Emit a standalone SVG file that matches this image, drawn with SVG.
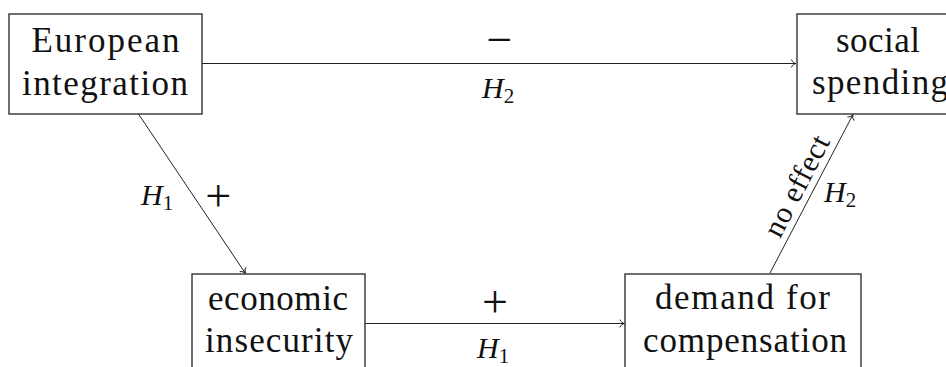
<svg xmlns="http://www.w3.org/2000/svg" width="946" height="367" viewBox="0 0 946 367">
<style>
text{font-family:'Liberation Serif','Tinos','Noto Serif','DejaVu Serif','FreeSerif','Nimbus Roman','Times New Roman','Times',serif}
.box{fill:#fff;stroke:#333;stroke-width:1.4}
.t{font-size:35px;fill:#111;text-anchor:middle}
.m{font-size:30px;font-style:italic;fill:#111}
.sub{font-style:normal;font-size:21px}
.op{font-size:46px;fill:#111;text-anchor:middle}
.lbl{font-size:30px;fill:#111;text-anchor:middle}
.edge{fill:none;stroke:#222;stroke-width:1;marker-end:url(#to)}
</style>
<defs>
<marker id="to" viewBox="-6 -5 8 10" refX="0" refY="0" markerWidth="8" markerHeight="10" markerUnits="userSpaceOnUse" orient="auto">
<path d="M-4.5,-3.5 C-3.8,-1.5 -1.5,-0.3 0,0 C-1.5,0.3 -3.8,1.5 -4.5,3.5" fill="none" stroke="#222" stroke-width="1" stroke-linecap="round"/>
</marker>
</defs>
<g id="edges">
<line class="edge" x1="202" y1="63.5" x2="796" y2="63.5"/>
<line class="edge" x1="365" y1="323.5" x2="624.5" y2="323.5"/>
<line class="edge" x1="138.5" y1="114" x2="245.5" y2="273.5"/>
<line class="edge" x1="770" y1="273" x2="853" y2="114.5"/>
<text class="op" x="499.5" y="55">−</text>
<text class="m" x="482" y="98">H<tspan class="sub" dy="5">2</tspan></text>
<text class="op" x="495" y="316.5">+</text>
<text class="m" x="477" y="358">H<tspan class="sub" dy="5">1</tspan></text>
<text class="m" x="141" y="205">H<tspan class="sub" dy="5">1</tspan></text>
<text class="op" x="218.3" y="211">+</text>
<text class="m" x="824" y="202">H<tspan class="sub" dy="5">2</tspan></text>
<text class="lbl" x="805.3" y="190.3" transform="rotate(-62.6 805.3 190.3)" textLength="110" lengthAdjust="spacing">no effect</text>
</g>
<g id="n-european">
<rect class="box" x="9" y="14" width="193" height="100"/>
<text class="t" x="105.5" y="52" textLength="148" lengthAdjust="spacing">European</text>
<text class="t" x="105" y="95" textLength="166" lengthAdjust="spacing">integration</text>
</g>
<g id="n-social">
<rect class="box" x="797" y="14" width="166" height="100"/>
<text class="t" x="878" y="52" textLength="84" lengthAdjust="spacing">social</text>
<text class="t" x="880" y="94" textLength="136" lengthAdjust="spacing">spending</text>
</g>
<g id="n-insecurity">
<rect class="box" x="192" y="274" width="173" height="100"/>
<text class="t" x="278" y="310" textLength="140" lengthAdjust="spacing">economic</text>
<text class="t" x="279" y="352" textLength="148" lengthAdjust="spacing">insecurity</text>
</g>
<g id="n-demand">
<rect class="box" x="625" y="274" width="236" height="100"/>
<text class="t" x="742.5" y="309" textLength="175" lengthAdjust="spacing">demand for</text>
<text class="t" x="745" y="352" textLength="204" lengthAdjust="spacing">compensation</text>
</g>
</svg>
